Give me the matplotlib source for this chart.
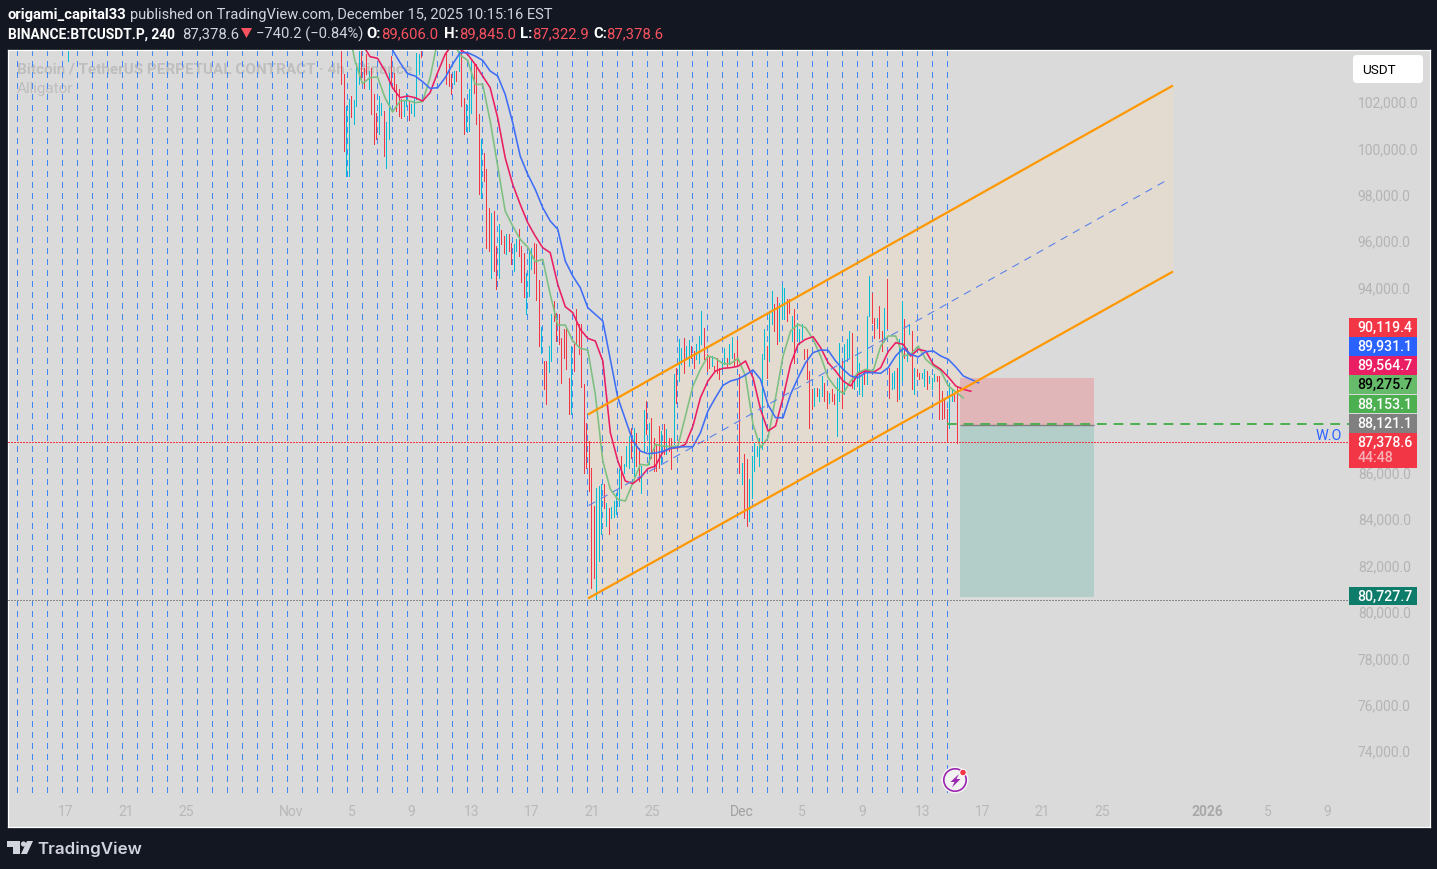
import numpy as np
import matplotlib
matplotlib.use("Agg")
import matplotlib.pyplot as plt
from matplotlib.patches import Rectangle, Polygon, Circle, FancyBboxPatch
from matplotlib.transforms import Affine2D, ScaledTranslation

# ---------- data ----------
candle_high = [104390,103236,101870,102158,102302,102115,103740,104390,104390,103524,
104099,103380,103524,102374,101583,102302,102014,101655,101194,103308,
104027,103308,102805,102589,102158,102115,102446,102086,101942,102230,
104171,104099,104390,106000,105900,106300,106500,106200,106000,105800,
105700,105500,104390,103668,103236,103380,103380,104390,104390,102230,
101942,102589,103812,103668,103668,101511,100432,99857,99138,97484,
97269,97341,95831,96765,96507,96262,96363,96334,95974,95903,
96118,96550,95831,95543,94680,95687,95759,95946,95931,94349,
92336,90870,90870,91517,92912,93458,92955,92883,91876,92236,
92308,90151,91517,91589,93099,92451,92451,89863,88209,87418,
86268,84614,85405,85477,85549,85549,84758,84542,84571,84830,
85190,86196,86771,86412,87203,87634,87994,87994,87778,87131,
86340,88756,89144,88209,88425,87562,87275,88066,87850,88137,
87922,87562,87562,90294,90582,91804,91445,91876,91517,91761,
91517,91301,91589,91948,93027,92308,91157,91085,91085,90654,
91013,90582,90870,91445,91013,91589,91905,91229,91761,90323,
86484,86843,86627,85800,86772,87347,87203,87563,91158,92236,
91517,93027,93890,93315,93631,93387,94149,94005,93530,93530,
92811,93099,92524,92236,92452,91373,91373,90439,89648,89720,
89720,89648,90223,89935,89576,89504,89648,89432,90151,91661,
90870,91589,91805,92164,92092,90223,91302,90798,90223,90510,
92811,94537,93818,92739,92739,93243,92164,93171,94393,90582,
90367,90439,90554,91805,93458,92668,91445,92452,92164,90582,
90510,90367,90367,90510,90439,90223,90151,90295,90223,90223,
89576,89288,88785,89935,89648,89504,89792]
candle_low = [102805,99929,98850,98850,101410,101108,101870,102805,102949,102661,
103236,102589,101540,100217,100432,100677,101482,99713,99181,100432,
102805,102517,101655,101439,101367,101439,101870,101252,101583,101439,
102158,103236,103984,105000,104900,105100,105300,105000,104800,104700,
104600,104500,102805,102733,102402,102805,102949,103380,101870,100648,
100792,100792,101583,102446,101079,98060,97916,98635,95759,95615,
94465,94752,93961,94465,95903,95543,95500,95615,95040,94752,
95615,95399,94292,93631,92912,93674,94824,94680,93487,91517,
91229,89647,89000,90409,90870,92595,91732,91589,89935,91013,
90510,88569,88569,90438,91589,91157,89748,86052,86268,85261,
81091,81523,80588,82242,83392,84542,83751,83421,84111,84140,
84255,84614,85405,86052,86340,86268,86699,85908,86340,85693,
85190,86987,87706,86412,86699,86124,86124,86268,86412,86843,
86843,86987,86196,87275,89072,90007,90726,90366,91013,90654,
91013,90582,90942,90798,91589,90942,90438,90582,90654,90438,
90366,90079,90510,90726,90654,90726,91013,90654,90654,86052,
85549,84111,83751,83968,84945,86125,86772,86340,87059,90942,
90151,90870,92452,92164,91589,91733,92668,92668,92596,92955,
91733,90798,91877,91589,91805,90942,90079,87994,88785,88929,
89360,89144,89360,89144,88857,89072,89144,89001,87634,89144,
88857,89432,90870,91014,89720,89648,89792,89432,89360,89863,
89863,92811,92524,91877,92308,91877,91302,91733,92308,89288,
89648,89720,89144,89216,90007,91014,90870,92020,89648,89432,
90223,90079,90151,89792,89648,89935,89648,90007,90007,88353,
88353,88425,87419,87994,89144,89144,87318]
candle_dir = ("RRCCRCCCRR" "RCRRRCCRCC" "RRRRRCCRCC" "CCRCCCCCCC" "CCRRRCRCRR"
              "CCCRRRCRRR" "CRRCRRCRRC" "CRRRCCCRRR" "CRRCCRRRRR" "RRCRRRRRRR"
              "RRCCCRCRCC" "CCRCCCRCRR" "CCRCRRRRCR" "CRRCRCCRCC" "RRCCCRRRCR"
              "RRCCRCCRRR" "CRRCCCCCCC" "RCCRRCCCRR" "CRCCCRRRRC" "RCCRRCRRCC"
              "RCCCRCCCCR" "CCRRCRRCRR" "CCRCCRCCRC" "RRCCRCCCRR" "RRRCCRR")
early_day, early_high, early_low = [16.13], [104900], [103812]

jaw = [104286,103740,103265,103165,102920,102630,102660,103090,103670,104170,
104170,104027,103840,103380,103165,102374,101150,99713,98922,98275,
97484,96909,96550,95184,94536,94033,93170,92883,92595,
90942,89288,88353,87418,86987,86872,86900,86973,87102,87160,87174,87174,87778,
88713,89288,89820,90007,90093,90266,90481,90079,88980,88425,
88425,89432,90151,90798,91230,91345,91330,90870,90510,90223,90151,90367,90367,
90338,90582,91086,91417,91158,91043,91273,91302,91086,90942,90611,90223,90079,89931]
teeth = [104530,104000,103927,103380,102661,102230,102302,102230,102086,102446,
103308,104099,104530,104315,104099,103668,103165,102661,101367,99641,
98491,97628,96837,96262,95759,95543,94177,93213,92955,92236,91847,91732,90870,
87778,86556,85693,85578,85837,86225,86340,86944,87102,87131,87275,88066,89288,
90007,90438,90553,90582,90640,90870,90151,88784,87850,88066,
89288,90726,91589,91805,91920,91445,90798,90439,90007,89792,90295,90439,90367,
90582,91273,91661,91589,91086,91373,91302,90726,90510,90180,89792,89648,89565]
lips = [105393,103812,102834,103093,103121,102230,101611,102086,102115,102014,
102057,103093,104674,105106,104674,104070,103840,102805,102805,101223,
99282,97340,96693,96118,95787,95155,95255,93745,92423,92423,91733,91416,91344,
89432,86556,85333,84902,84830,85621,86412,86369,87275,87203,87174,87203,88497,
89791,90510,91085,90985,90755,90755,90985,90222,88137,87131,87562,89288,
91086,92164,92452,92308,91805,91086,90151,89720,89461,90007,90367,90510,90439,
91517,91949,91949,91086,91158,91517,90942,90654,90439,89792,89533,89276]

channel_days = [50.75, 89.70]
channel_upper = [88560, 102755]
channel_lower = [80625, 94730]
channel_mid_days = [50.80, 89.37]
channel_mid = [84635, 98700]

position_days = [75.52, 84.44]
position_stop = 90119.4
position_entry = 88121.1
position_floor = 80680
last_price = 87378.6
lips_line = 88153.1
dotted_level = 80580

ytick_values = list(range(74000, 104000, 2000))
hidden_ticks = [88000, 90000, 92000]   # covered by the price chips in the reference
xtick_days = [16, 20, 24, 31, 35, 39, 43, 47, 51, 55, 61, 65, 69, 73, 77, 81, 85, 92, 96, 100]
xtick_labels = ["17", "21", "25", "Nov", "5", "9", "13", "17", "21", "25", "Dec", "5", "9", "13",
                "17", "21", "25", "2026", "5", "9"]

chip_labels = ["90,119.4", "89,931.1", "89,564.7", "89,275.7", "88,153.1", "88,121.1", "87,378.6", "80,727.7"]
chip_colors = ["#f23645", "#2962ff", "#e91e63", "#66bb6a", "#4caf50", "#808080", "#f23645", "#0e7c6b"]
chip_text = ["white", "white", "white", "black", "white", "white", "white", "white"]
chip_tops = [318, 337, 356, 375, 395, 414, 433, 587]
chip_heights = [18.5, 18.5, 18.5, 19, 18, 18.5, 34.5, 18]

# ---------- figure ----------
W, H = 1437, 869
BG = "#131722"
plt.rcParams["font.family"] = ["Roboto", "DejaVu Sans"]
plt.rcParams["lines.scale_dashes"] = False
fig = plt.figure(figsize=(W / 100, H / 100), dpi=100, facecolor=BG)
L, R, T, B = 8, 1430, 50, 827
ax = fig.add_axes([L / W, (H - B) / H, (R - L) / W, (B - T) / H], facecolor="#dadada")
pp = 43.14
ZERO = 103
ax.set_ylim(102000 - (B - ZERO) * pp, 102000 + (ZERO - T) * pp)
day_of = lambda px: 16 + (px - 66) / 15.02
ax.set_xlim(day_of(L), day_of(R))
pix = Affine2D().scale(1, -1).translate(0, H)

for s in ax.spines.values():
    s.set_color("white")
    s.set_linewidth(0.9)

TICK_FS = 10.0
ax.yaxis.tick_right()
ax.set_yticks(ytick_values)
ax.set_yticklabels(["" if v in hidden_ticks else f"{v:,.1f}" for v in ytick_values],
                   color="#b4b4b4", fontsize=TICK_FS)
ax.tick_params(axis="y", length=0, pad=-52)
up1 = ScaledTranslation(0, 1 / 100, fig.dpi_scale_trans)
for lab in ax.get_yticklabels():
    lab.set_transform(lab.get_transform() + up1)
ax.set_xticks(xtick_days)
ax.set_xticklabels(xtick_labels, color="#b8b8b8", fontsize=TICK_FS)
ax.tick_params(axis="x", length=0, pad=-15.5)
for lab, txt in zip(ax.get_xticklabels(), xtick_labels):
    if txt == "2026":
        lab.set_fontweight("bold")
        lab.set_color("#a8a8a8")
    if txt == "Dec":
        lab.set_color("#a0a0a0")

# channel fill
ax.fill_between(channel_days, channel_lower, channel_upper, color="#e3dbd0", lw=0, zorder=1)

# watermark
ax.text(17, 68, "Bitcoin / TetherUS PERPETUAL CONTRACT · 4h · Binance", color="#bebebe", fontsize=11,
        fontweight="bold", ha="left", va="center_baseline", transform=pix, zorder=1.2)
ax.text(17, 87, "Alligator", color="#bebebe", fontsize=11, ha="left", va="center_baseline", transform=pix, zorder=1.2)

# day separators
sep_days = day_of(17) + np.arange(0, 63) * (15 / 15.02)
ybot = 102000 - (793 - ZERO) * pp
ytop = ax.get_ylim()[1]
ax.vlines(sep_days, ytop, ybot, colors="#4285f4", lw=0.75,
          linestyles=[(0, (3.6, 4.3))], zorder=1.5, antialiased=False)

# position boxes
dx = position_days[1] - position_days[0]
ax.add_patch(Rectangle((position_days[0], position_entry), dx, position_stop - position_entry,
                       fc="#e0b6b8", ec="none", zorder=1.6))
ax.add_patch(Rectangle((position_days[0], position_floor), dx, position_entry - position_floor,
                       fc="#b3cdc9", ec="none", zorder=1.6))
ax.hlines(position_entry, *position_days, colors="#808080", lw=1.0, zorder=1.7)

# candles
bar_day = 34.31 + np.arange(len(candle_high)) / 6
cols = ["#00bcd4" if c == "C" else "#f23645" for c in candle_dir]
ax.vlines(bar_day, candle_low, candle_high, colors=cols, lw=0.55, zorder=2.2, antialiased=False)
ax.vlines(early_day, early_low, early_high, colors="#00bcd4", lw=0.55, zorder=2.2, antialiased=False)

# alligator
ldays = lambda start, arr: 34.24 + 0.5 * np.arange(start, start + len(arr))
ax.plot(ldays(1, lips), lips, color="#7dbf80", lw=1.15, zorder=3)
ax.plot(ldays(3, teeth), teeth, color="#e91e63", lw=1.15, zorder=3.1)
ax.plot(ldays(7, jaw), jaw, color="#3f6ef5", lw=1.15, zorder=3.2)

# channel lines
ax.plot(channel_days, channel_upper, color="#ff9800", lw=1.6, zorder=3.5, solid_capstyle="butt")
ax.plot(channel_days, channel_lower, color="#ff9800", lw=1.6, zorder=3.5, solid_capstyle="butt")
ax.plot(channel_mid_days, channel_mid, color="#5b83ea", lw=0.8, ls=(0, (5.5, 4.5)), zorder=3.4)

# horizontal levels
x_span = [day_of(L), day_of(1349)]
ax.plot(x_span, [last_price] * 2, color="#f23645", lw=0.75, ls=(0, (1.0, 1.4)), antialiased=False, zorder=3.6)
ax.plot(x_span, [dotted_level] * 2, color="#8a8a8a", lw=0.75, ls=(0, (0.75, 0.75)), antialiased=False, zorder=3.6)
ax.plot([day_of(947), day_of(1349)], [lips_line] * 2, color="#4caf50", lw=1.4, ls=(0, (7, 5)), zorder=3.6)

# chips
for lab, c, tc, t, h in zip(chip_labels, chip_colors, chip_text, chip_tops, chip_heights):
    ax.add_patch(Rectangle((1349, t), 68, h, fc=c, ec="none", transform=pix, zorder=6))
    cy = t + 8 if h > 20 else t + h / 2 - 1
    ax.text(1385, cy, lab, color=tc, fontsize=10.2, fontweight=500, ha="center", va="center_baseline",
            transform=pix, zorder=7)
ax.text(1376, 457, "44:48", color="#fab0b7", fontsize=10.2, fontweight=500, ha="center",
        va="center_baseline", transform=pix, zorder=7)
ax.text(1328.5, 435, "W.O", color="#2962ff", fontsize=10.4, ha="center", va="center_baseline",
        transform=pix, zorder=7)

# currency button
ax.add_patch(FancyBboxPatch((1356, 58), 64, 22, boxstyle="round,pad=3,rounding_size=4", fc="white", ec="none",
                            transform=pix, zorder=6))
ax.text(1378.5, 69, "USDT", color="black", fontsize=9.7, ha="center", va="center_baseline", transform=pix, zorder=7)

# lightning badge
ax.add_patch(Circle((955, 780), 13.5, fc="#f4f4f4", ec="none", transform=pix, zorder=6))
ax.add_patch(Circle((955, 780), 11.2, fc="#f2f2f2", ec="#9c27b0", lw=1.2, transform=pix, zorder=6.1))
ax.add_patch(Polygon([(959, 774), (950.5, 782), (954.5, 782), (952, 787.5), (960.5, 779), (956.5, 779)],
                     fc="#9c27b0", ec="none", transform=pix, zorder=7))
ax.add_patch(Circle((963, 772.5), 3.3, fc="#f23645", ec="white", lw=0.7, transform=pix, zorder=8))

# header
HDR = "#d1d4dc"
def head(x, y, s, c=HDR, w="normal", fs=10.7):
    fig.text(x / W, 1 - y / H, s, color=c, fontweight=w, fontsize=fs, ha="left", va="center_baseline")
RED = "#f7525f"
head(8, 14, "origami_capital33", "white", "bold", 10.65)
head(130, 14, "published on TradingView.com, December 15, 2025 10:15:16 EST", fs=10.5)
head(8, 33, "BINANCE:BTCUSDT.P, 240", "white", "bold", 9.95)
head(182, 33, "87,378.6")
head(256, 33, "−740.2 (−0.84%)", fs=10.6)
head(366, 33, "O:", "white", "bold")
head(381, 33, "89,606.0", RED)
head(444, 33, "H:", "white", "bold")
head(459, 33, "89,845.0", RED)
head(520, 33, "L:", "white", "bold")
head(532, 33, "87,322.9", RED)
head(593, 33, "C:", "white", "bold")
head(606, 33, "87,378.6", RED)
fig.add_artist(Polygon([(241, 28), (252, 28), (246.5, 38)], fc=RED, ec="none", transform=pix))

# TradingView logo
for pts in ([(7, 841), (20, 841), (20, 854), (13, 854), (13, 847), (7, 847)],
            [(27, 841), (33, 841), (27, 854), (21, 854)]):
    fig.add_artist(Polygon(pts, fc=HDR, ec="none", transform=pix))
fig.add_artist(Circle((23.5, 844), 2.6, fc=HDR, ec="none", transform=pix))
fig.text(37 / W, 1 - 848 / H, "TradingView", color=HDR, fontsize=12.2, fontweight=600,
         family=["Inter", "DejaVu Sans"], ha="left", va="center_baseline")

fig.savefig("out.png", dpi=100, facecolor=BG)
